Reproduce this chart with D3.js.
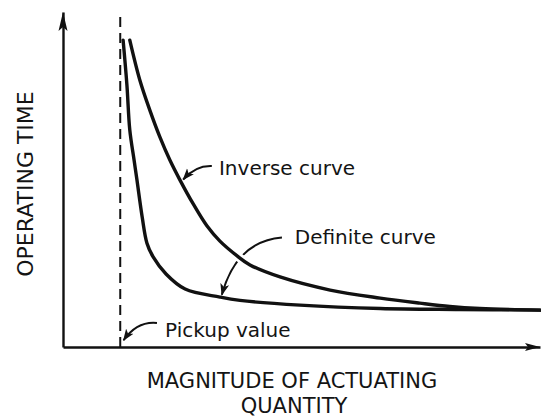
<!DOCTYPE html>
<html>
<head>
<meta charset="utf-8">
<script src="https://cdn.jsdelivr.net/npm/d3@7"></script>
<style>
  html, body { margin: 0; padding: 0; background: #fff; }
  svg { display: block; }
  text { font-family: "DejaVu Sans", sans-serif; fill: #141414; }
</style>
</head>
<body>
<svg id="chart" width="541" height="419"></svg>
<script>
// Magnitude of actuating quantity (arbitrary units) and operating time (arbitrary units)
const pickupValue = 1.2;

const definiteX = [1.26, 1.34, 1.40, 1.49, 1.55, 1.66, 1.76, 1.89, 2.16, 2.56, 3.29, 3.71, 4.97, 6.65, 8.32, 10.0];
const definiteY = [9.16, 7.82, 6.48, 5.58, 4.99, 3.88, 3.10, 2.69, 2.18, 1.73, 1.49, 1.39, 1.25, 1.15, 1.12, 1.10];

const inverseX = [1.40, 1.61, 1.82, 2.03, 2.24, 2.45, 2.73, 3.02, 3.29, 3.65, 3.92, 4.55, 5.60, 6.65, 7.48, 8.11, 8.74, 10.0];
const inverseY = [9.16, 7.97, 7.07, 6.27, 5.58, 4.99, 4.27, 3.61, 3.16, 2.72, 2.45, 2.09, 1.70, 1.46, 1.31, 1.21, 1.15, 1.10];

const xTitle = ["MAGNITUDE OF ACTUATING", "QUANTITY"];
const yTitle = "OPERATING TIME";
const labels = ["Inverse curve", "Definite curve", "Pickup value"];

const svg = d3.select("#chart");
const ink = "#111";

const x = d3.scaleLinear().domain([0, 10]).range([63, 540]);
const y = d3.scaleLinear().domain([0, 10]).range([347, 12]);

// Axes without ticks, each ending in an arrowhead
const xAxis = svg.append("g").attr("transform", `translate(0,${y(0)})`)
  .call(d3.axisBottom(x).ticks(0).tickSizeOuter(0));
const yAxis = svg.append("g").attr("transform", `translate(${x(0)},0)`)
  .call(d3.axisLeft(y).ticks(0).tickSizeOuter(0));
[xAxis, yAxis].forEach(g => {
  g.select(".domain").attr("stroke", ink).attr("stroke-width", 2.4);
  g.selectAll(".tick").remove();
});

// Arrowheads at the axis ends
const xEnd = x(10), yTop = y(10);
svg.append("path")
  .attr("d", `M${xEnd},${y(0)} L${xEnd - 15},${y(0) - 4} L${xEnd - 12},${y(0)} L${xEnd - 15},${y(0) + 4} Z`)
  .attr("fill", ink);
svg.append("path")
  .attr("d", `M${x(0)},${yTop} L${x(0) - 4.5},${yTop + 19} L${x(0)},${yTop + 15} L${x(0) + 4.5},${yTop + 19} Z`)
  .attr("fill", ink);

// Pickup value line
svg.append("line")
  .attr("x1", x(pickupValue)).attr("x2", x(pickupValue))
  .attr("y1", y(0)).attr("y2", y(10))
  .attr("stroke", ink).attr("stroke-width", 2)
  .attr("stroke-dasharray", "10,6");

// Curves
const line = d3.line()
  .x(d => x(d[0])).y(d => y(d[1]))
  .curve(d3.curveCatmullRom.alpha(0.5));

// Definite curve callout drawn first so the curves sit on top of it
function pt(a, b) { return `${x(a)},${y(b)}`; }

svg.append("defs").append("marker")
  .attr("id", "head")
  .attr("viewBox", "0 -5 12 10")
  .attr("refX", 11).attr("refY", 0)
  .attr("markerWidth", 12).attr("markerHeight", 10)
  .attr("markerUnits", "userSpaceOnUse")
  .attr("orient", "auto")
  .append("path")
  .attr("d", "M0,-4.5 L12,0 L0,4.5 L3,0 Z")
  .attr("fill", ink);

svg.append("path")
  .attr("d", `M${pt(4.59, 3.27)} C${pt(4.0, 3.2)} ${pt(3.55, 2.7)} ${pt(3.33, 1.56)}`)
  .attr("fill", "none").attr("stroke", ink).attr("stroke-width", 2)
  .attr("marker-end", "url(#head)");

const inversePts = d3.zip(inverseX, inverseY);

// White halo where the callout passes under the inverse curve
svg.append("path")
  .datum(inversePts)
  .attr("d", line)
  .attr("fill", "none").attr("stroke", "#fff")
  .attr("stroke-width", 9);

svg.append("path")
  .datum(d3.zip(definiteX, definiteY))
  .attr("d", line)
  .attr("fill", "none").attr("stroke", ink)
  .attr("stroke-width", 3.4).attr("stroke-linecap", "round");

svg.append("path")
  .datum(inversePts)
  .attr("d", line)
  .attr("fill", "none").attr("stroke", ink)
  .attr("stroke-width", 3.4).attr("stroke-linecap", "round");

// Inverse curve callout
svg.append("path")
  .attr("d", `M${pt(3.12, 5.40)} Q${pt(2.78, 5.42)} ${pt(2.52, 5.0)}`)
  .attr("fill", "none").attr("stroke", ink).attr("stroke-width", 2)
  .attr("marker-end", "url(#head)");
svg.append("text")
  .attr("x", x(3.27)).attr("y", y(5.13))
  .attr("font-size", 20).text(labels[0]);

svg.append("text")
  .attr("x", x(4.86)).attr("y", y(3.07))
  .attr("font-size", 20).text(labels[1]);

// Pickup value callout
svg.append("path")
  .attr("d", `M${pt(1.97, 0.72)} Q${pt(1.55, 0.78)} ${pt(1.27, 0.2)}`)
  .attr("fill", "none").attr("stroke", ink).attr("stroke-width", 2)
  .attr("marker-end", "url(#head)");
svg.append("text")
  .attr("x", x(2.14)).attr("y", y(0.3))
  .attr("font-size", 20).text(labels[2]);

// Axis titles
svg.append("text")
  .attr("x", 292).attr("y", 388)
  .attr("text-anchor", "middle").attr("font-size", 21)
  .text(xTitle[0]);
svg.append("text")
  .attr("x", 294).attr("y", 413)
  .attr("text-anchor", "middle").attr("font-size", 21)
  .text(xTitle[1]);
svg.append("text")
  .attr("transform", "translate(33,184) rotate(-90)")
  .attr("text-anchor", "middle").attr("font-size", 22)
  .text(yTitle);
</script>
</body>
</html>
